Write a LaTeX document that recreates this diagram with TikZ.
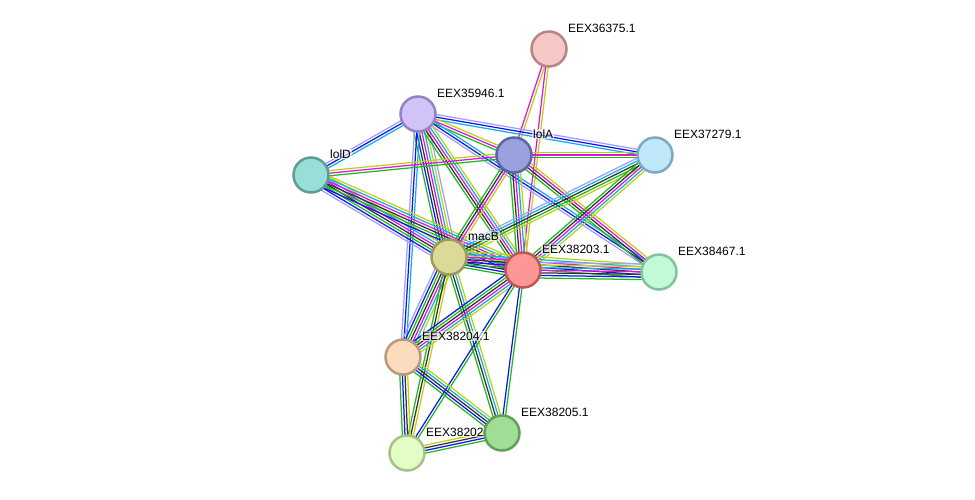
\documentclass[tikz,border=0pt]{standalone}
\usepackage{fontspec}
\setmainfont{Liberation Sans}
\usetikzlibrary{calc,backgrounds}

% evidence channels
\definecolor{nbhd}{RGB}{30,185,30}
\definecolor{cooc}{RGB}{20,20,240}
\definecolor{coex}{RGB}{50,50,50}
\definecolor{expt}{RGB}{225,20,225}
\definecolor{dbs}{RGB}{20,175,225}
\definecolor{txt}{RGB}{190,210,20}
\definecolor{homo}{RGB}{160,160,250}

% protein colours (fill / rim)
\definecolor{fA}{HTML}{F7C6C6}\definecolor{dA}{HTML}{B88585}
\definecolor{fB}{HTML}{D2C4F8}\definecolor{dB}{HTML}{9582C7}
\definecolor{fC}{HTML}{9AA2DE}\definecolor{dC}{HTML}{5C66A2}
\definecolor{fD}{HTML}{C0E8FA}\definecolor{dD}{HTML}{7FA8C2}
\definecolor{fE}{HTML}{9ADFD7}\definecolor{dE}{HTML}{5C9E96}
\definecolor{fF}{HTML}{DCDA96}\definecolor{dF}{HTML}{9E9A5C}
\definecolor{fG}{HTML}{FF9696}\definecolor{dG}{HTML}{C05656}
\definecolor{fH}{HTML}{C2FAD8}\definecolor{dH}{HTML}{82C29E}
\definecolor{fI}{HTML}{FCDCBE}\definecolor{dI}{HTML}{B99A7D}
\definecolor{fJ}{HTML}{E2FEC4}\definecolor{dJ}{HTML}{A6C28A}
\definecolor{fK}{HTML}{A0DE98}\definecolor{dK}{HTML}{62A05A}

% bundle of parallel lines, one per channel
\newcommand\edge[3]{%
  \foreach \c [count=\k] in {#3}{\xdef\nl{\k}}%
  \foreach \c [count=\i] in {#3}{%
    \pgfmathsetmacro\off{(\i-1-(\nl-1)/2)*2.6}%
    \draw[link, \c] ($(#1)!\off pt!90:(#2)$) -- ($(#2)!\off pt!-90:(#1)$);
  }%
}

\tikzset{
  prot/.style={circle, minimum size=35pt, inner sep=0pt, line width=2.5pt},
  link/.style={line width=1.25pt},
  lbl/.style={anchor=west, inner sep=1pt, fill=white, fill opacity=0.6, text opacity=1,
    font=\fontsize{12}{14}\selectfont}
}

\begin{document}
\begin{tikzpicture}[x=1pt, y=-1pt]
  \useasboundingbox (0,0) rectangle (975,499);
  \foreach \n/\x/\y/\f/\d/\t in {
      e36375/549/49/fA/dA/EEX36375.1,
      e35946/418/114/fB/dB/EEX35946.1,
      lolA/514/155/fC/dC/lolA,
      e37279/655/155/fD/dD/EEX37279.1,
      lolD/311/175/fE/dE/lolD,
      macB/449/257/fF/dF/macB,
      e38203/523/270/fG/dG/EEX38203.1,
      e38467/659/272/fH/dH/EEX38467.1,
      e38204/403/357/fI/dI/EEX38204.1,
      e38202/407/453/fJ/dJ/EEX38202.1,
      e38205/502/433/fK/dK/EEX38205.1}{
    \node[prot, fill=\f, draw=\d] (\n) at (\x,\y) {};
    \node[lbl] (\n-t) at (\x+18,\y-21) {\t};
  }
  \begin{pgfonlayer}{background}
    \edge{e36375}{lolA}{expt,txt}
    \edge{e36375}{e38203}{expt,txt}
    \edge{e35946}{lolD}{homo,cooc,dbs}
    \edge{e35946}{e37279}{dbs,cooc,homo}
    \edge{e35946}{lolA}{nbhd,expt,txt}
    \edge{e35946}{e38467}{homo,cooc,dbs}
    \edge{e35946}{macB}{nbhd,cooc,coex,expt,dbs,txt,homo}
    \edge{e35946}{e38203}{nbhd,coex,expt,dbs,txt}
    \edge{e35946}{e38204}{homo,cooc,dbs}
    \edge{lolD}{lolA}{nbhd,expt,txt}
    \edge{lolA}{e37279}{nbhd,expt,txt}
    \edge{lolA}{e38467}{nbhd,coex,expt,txt}
    \edge{lolD}{macB}{homo,cooc,nbhd,coex,expt,dbs,txt}
    \edge{lolD}{e38203}{cooc,nbhd,coex,expt,dbs,txt}
    \edge{lolA}{macB}{nbhd,coex,expt,txt}
    \edge{lolA}{e38203}{nbhd,coex,expt,dbs,txt}
    \edge{e37279}{macB}{homo,dbs,coex,nbhd,txt}
    \edge{e37279}{e38203}{nbhd,coex,expt,dbs,txt}
    \edge{macB}{e38203}{nbhd,cooc,coex,expt,dbs,txt,homo}
    \edge{macB}{e38467}{nbhd,cooc,coex,expt,dbs,txt}
    \edge{macB}{e38204}{homo,cooc,nbhd,coex,expt,dbs,txt}
    \edge{macB}{e38205}{nbhd,coex,dbs,txt}
    \edge{macB}{e38202}{nbhd,coex,txt}
    \edge{e38203}{e38467}{nbhd,cooc,coex,expt,dbs,txt,homo}
    \edge{e38203}{e38204}{cooc,nbhd,coex,expt,dbs,txt}
    \edge{e38203}{e38205}{cooc,nbhd}
    \edge{e38203}{e38202}{cooc,nbhd}
    \edge{e38204}{e38205}{nbhd,cooc,coex,dbs,txt}
    \edge{e38204}{e38202}{nbhd,cooc,coex,txt}
    \edge{e38202}{e38205}{nbhd,cooc,coex,txt}
  \end{pgfonlayer}
\end{tikzpicture}
\end{document}
